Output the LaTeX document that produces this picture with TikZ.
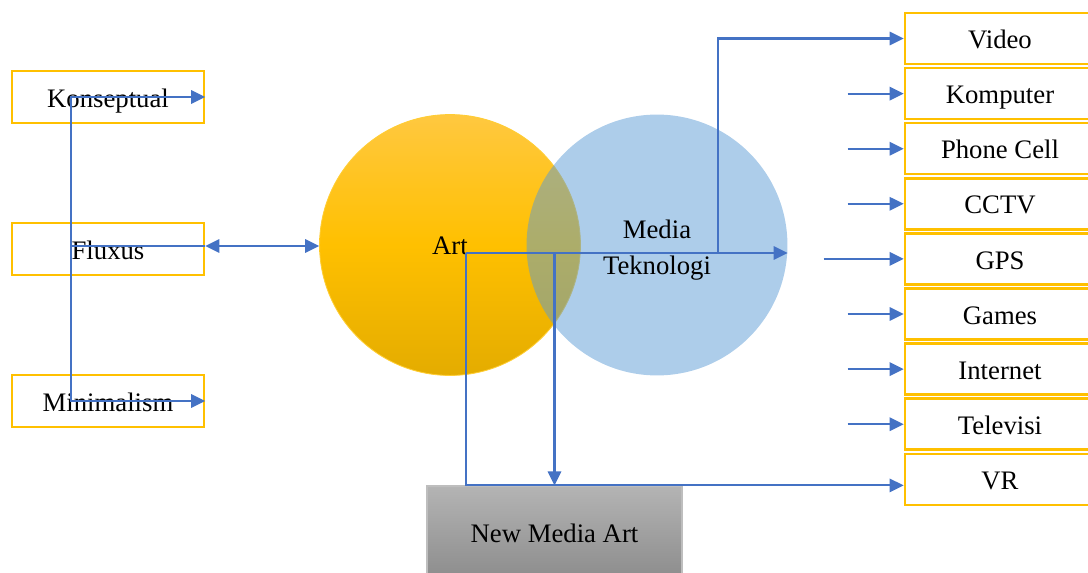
\documentclass[tikz,border=0pt]{standalone}
\usepackage{fontspec}
\setmainfont{Liberation Serif}
\usetikzlibrary{arrows.meta}

\definecolor{boxgold}{HTML}{FFC000}
\definecolor{linkblue}{HTML}{4472C4}
\definecolor{mediablue}{HTML}{5B9BD5}

\tikzset{
  every node/.style={font=\fontsize{19}{26}\selectfont},
  item/.style={draw=boxgold,line width=1.8pt,fill=white,inner sep=0pt,
    text height=19pt,text depth=4.5pt},
  leftitem/.style={item,minimum width=4.8cm,minimum height=1.3cm},
  rightitem/.style={item,minimum width=4.75cm,minimum height=1.275cm},
  tip/.tip={Triangle[length=10pt,width=9.5pt]},
  linkline/.style={draw=linkblue,line width=1.5pt},
  link/.style={linkline,-tip},
}

\begin{document}
\begin{tikzpicture}[x=0.025cm,y=-0.025cm]
  \useasboundingbox (0,0) rectangle (1088,573);

  % the two overlapping fields
  \node[circle,minimum size=6.52cm,draw=boxgold!80!white,line width=.6pt,
    top color={rgb,255:red,255;green,200;blue,64},
    bottom color={rgb,255:red,228;green,172;blue,0},
    middle color=boxgold] (art) at (450,245) {};
  \node at (450,246) {Art};
  \node[circle,minimum size=6.52cm,fill=mediablue,fill opacity=.5] (mt) at (657,245) {};
  \node[align=center] at (657,250) {Media\\Teknologi};

  % movements on the left
  \node[leftitem] (konseptual) at (108,97) {Konseptual};
  \node[leftitem] (fluxus) at (108,249) {Fluxus};
  \node[leftitem] (minimalism) at (108,401) {Minimalism};

  % media on the right
  \foreach \name/\txt [count=\i from 0] in {video/Video,komputer/Komputer,
      phone/Phone Cell,cctv/CCTV,gps/GPS,games/Games,internet/Internet,
      televisi/Televisi,vr/VR}
    \node[rightitem] (\name) at (1000,38.5+55.1*\i) {\txt};

  % result
  \node[draw={rgb,255:red,190;green,190;blue,190},line width=.8pt,
    top color={rgb,255:red,180;green,180;blue,180},
    bottom color={rgb,255:red,140;green,140;blue,140},
    minimum width=6.375cm,minimum height=2.35cm] (nma) at (554.5,533) {New Media Art};

  % left bracket
  \coordinate (stem) at (71,246);
  \draw[link] (stem) |- (konseptual.east);
  \draw[link] (stem) |- (minimalism.east);
  \draw[linkline] (stem) -- (stem -| fluxus.east);
  \draw[linkline,tip-tip] (stem -| fluxus.east) -- (stem -| art.west);

  % art and technology links
  \coordinate (split) at (466,253);
  \coordinate (up) at (718,253);
  \draw[link] (split) -- (split -| mt.east);
  \draw[link] (split) |- (vr.west |- nma.north);
  \draw[link] (split -| nma.north) -- (nma.north);
  \draw[link] (up) |- (video.west);

  \foreach \name in {komputer,phone,cctv,games,internet,televisi}
    \draw[link] ([xshift=-1.4cm]\name.west) -- (\name.west);
  \draw[link] ([xshift=-2cm]gps.west) -- (gps.west);
\end{tikzpicture}
\end{document}
